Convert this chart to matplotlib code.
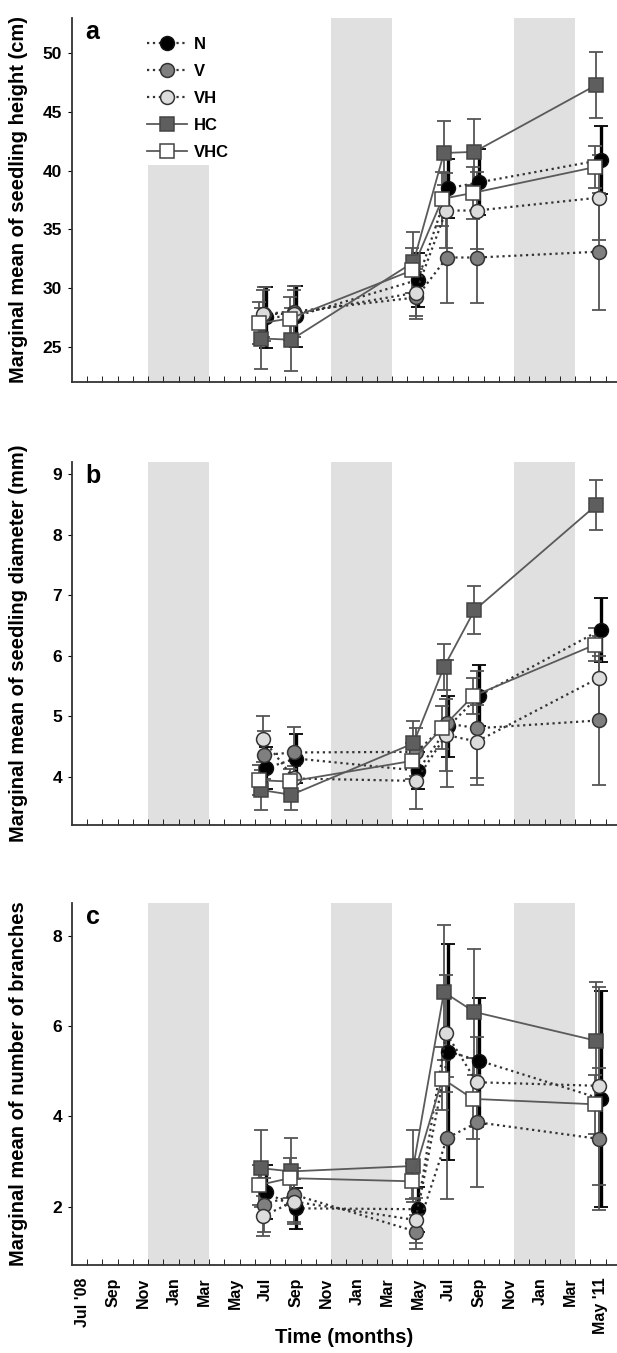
import matplotlib.pyplot as plt

plt.rcParams['font.family'] = ['Liberation Sans', 'DejaVu Sans']
plt.rcParams['font.weight'] = 'bold'

# sampling dates, months since Jul '08
months = [12, 14, 22, 24, 26, 34]
tick_labels = ["Jul '08", 'Sep', 'Nov', 'Jan', 'Mar', 'May', 'Jul', 'Sep', 'Nov',
               'Jan', 'Mar', 'May', 'Jul', 'Sep', 'Nov', 'Jan', 'Mar', "May '11"]
treatments = ['N', 'V', 'VH', 'HC', 'VHC']

# a - seedling height (cm)
height_N = [27.5, 27.6, 30.7, 38.5, 39.0, 40.9]
height_V = [27.8, 28.0, 29.2, 32.6, 32.6, 33.1]
height_VH = [27.8, 27.8, 29.6, 36.6, 36.6, 37.7]
height_HC = [25.7, 25.6, 32.2, 41.5, 41.6, 47.3]
height_VHC = [27.0, 27.4, 31.5, 37.6, 38.1, 40.3]
height_err_N = [2.6, 2.6, 2.3, 2.5, 2.8, 2.9]
height_err_V = [2.3, 2.2, 1.8, 3.9, 3.9, 5.0]
height_err_VH = [2.0, 2.0, 2.0, 3.2, 3.3, 3.6]
height_err_HC = [2.6, 2.7, 2.6, 2.7, 2.8, 2.8]
height_err_VHC = [1.8, 1.8, 1.9, 2.3, 2.2, 1.8]

# b - seedling diameter (mm)
diam_N = [4.14, 4.30, 4.10, 4.83, 5.34, 6.43]
diam_V = [4.36, 4.40, 4.41, 4.88, 4.80, 4.93]
diam_VH = [4.62, 3.97, 3.93, 4.69, 4.58, 5.63]
diam_HC = [3.78, 3.70, 4.55, 5.81, 6.75, 8.49]
diam_VHC = [3.94, 3.92, 4.26, 4.81, 5.33, 6.18]
diam_err_N = [0.35, 0.40, 0.30, 0.50, 0.50, 0.53]
diam_err_V = [0.40, 0.42, 0.40, 1.05, 0.94, 1.07]
diam_err_VH = [0.38, 0.20, 0.47, 0.60, 0.60, 0.70]
diam_err_HC = [0.33, 0.25, 0.37, 0.38, 0.40, 0.42]
diam_err_VHC = [0.25, 0.20, 0.30, 0.35, 0.30, 0.27]

# c - number of branches
branch_N = [2.33, 1.96, 1.94, 5.44, 5.24, 4.39]
branch_V = [2.04, 2.26, 1.44, 3.52, 3.87, 3.50]
branch_VH = [1.79, 2.11, 1.70, 5.85, 4.76, 4.68]
branch_HC = [2.85, 2.78, 2.90, 6.76, 6.32, 5.68]
branch_VHC = [2.48, 2.63, 2.56, 4.84, 4.39, 4.27]
branch_err_N = [0.60, 0.45, 0.50, 2.40, 1.40, 2.40]
branch_err_V = [0.60, 0.60, 0.38, 1.35, 1.43, 1.57]
branch_err_VH = [0.45, 0.50, 0.50, 1.30, 1.00, 2.20]
branch_err_HC = [0.85, 0.75, 0.80, 1.50, 1.40, 1.30]
branch_err_VHC = [0.45, 0.45, 0.40, 0.70, 0.90, 0.65]

panels = [
    ('a', 'Marginal mean of seedling height (cm)',
     [height_N, height_V, height_VH, height_HC, height_VHC],
     [height_err_N, height_err_V, height_err_VH, height_err_HC, height_err_VHC],
     (22, 53), [25, 30, 35, 40, 45, 50]),
    ('b', 'Marginal mean of seedling diameter (mm)',
     [diam_N, diam_V, diam_VH, diam_HC, diam_VHC],
     [diam_err_N, diam_err_V, diam_err_VH, diam_err_HC, diam_err_VHC],
     (3.2, 9.2), [4, 5, 6, 7, 8, 9]),
    ('c', 'Marginal mean of number of branches',
     [branch_N, branch_V, branch_VH, branch_HC, branch_VHC],
     [branch_err_N, branch_err_V, branch_err_VH, branch_err_HC, branch_err_VHC],
     (0.7, 8.74), [2, 4, 6, 8]),
]

# styles per treatment
offsets = [0.0, -0.1, -0.15, -0.3, -0.4]
markers = ['o', 'o', 'o', 's', 's']
fills = ['black', '#7f7f7f', '#dcdcdc', '#5e5e5e', 'white']
edges = ['#111111', '#333333', '#333333', '#444444', '#444444']
linestyles = [':', ':', ':', '-', '-']
linecolors = ['#333333', '#333333', '#333333', '#5a5a5a', '#5a5a5a']
ecolors = ['black', '#555555', '#555555', '#555555', '#555555']
elws = [2.4, 1.3, 1.3, 1.3, 1.3]

winters = [(4.3, 8.3), (16.3, 20.3), (28.3, 32.3)]

fig = plt.figure(figsize=(6.17, 13.53), dpi=100)
positions = [[0.1167, 0.7177, 0.8833, 0.269],
             [0.1167, 0.3902, 0.8833, 0.2683],
             [0.1167, 0.0650, 0.8833, 0.2676]]

for p, (letter, ylabel, series, errs, ylim, yticks) in enumerate(panels):
    ax = fig.add_axes(positions[p])
    for w, (x0, x1) in enumerate(winters):
        if p == 0 and w == 0:
            ax.fill_between([x0, x1], ylim[0], 40.5, color='#e0e0e0', lw=0, zorder=0)
        else:
            ax.axvspan(x0, x1, color='#e0e0e0', lw=0, zorder=0)

    for i, name in enumerate(treatments):
        xs = [m + offsets[i] for m in months]
        ax.errorbar(xs, series[i], yerr=errs[i], fmt='none', ecolor=ecolors[i],
                    elinewidth=elws[i], capsize=5, capthick=1.3, zorder=2 + i * 0.1)
        ax.plot(xs, series[i], linestyle=linestyles[i], color=linecolors[i],
                lw=1.6 if linestyles[i] == ':' else 1.3, marker=markers[i],
                markersize=10 if markers[i] == 'o' else 9.5,
                markerfacecolor=fills[i], markeredgecolor=edges[i], markeredgewidth=1.1,
                label=name, zorder=3 + i * 0.1)

    ax.set_xlim(-0.69, 35.05)
    ax.set_ylim(*ylim)
    ax.set_yticks(yticks)
    ax.tick_params(axis='y', direction='out', length=3, labelsize=12.5, pad=4)
    ax.set_xticks(list(range(0, 35, 2)))
    ax.set_xticks([m + 0.3 for m in range(35)], minor=True)
    ax.tick_params(axis='x', which='major', length=0, labelsize=11.5, pad=9)
    ax.tick_params(axis='x', which='minor', direction='in', length=4)
    if p == 2:
        ax.set_xticklabels(tick_labels, rotation=90, fontweight='bold')
    else:
        ax.set_xticklabels([])
    for lab in ax.get_yticklabels():
        lab.set_fontweight('bold')

    ax.spines['top'].set_visible(False)
    ax.spines['right'].set_visible(False)
    ax.spines['left'].set_linewidth(1.3)
    ax.spines['bottom'].set_linewidth(1.3)
    ax.spines['left'].set_color('#333333')
    ax.spines['bottom'].set_color('#333333')

    ax.set_ylabel(ylabel, fontsize=14.5, fontweight='bold')
    ax.yaxis.set_label_coords(-0.08, 0.5)
    ax.text(0.025, 0.995, letter, transform=ax.transAxes, fontsize=18,
            fontweight='bold', va='top', ha='left')

    if p == 0:
        ax.legend(loc='upper left', bbox_to_anchor=(0.12, 0.975), frameon=False,
                  handlelength=2.4, labelspacing=0.72, handletextpad=0.4,
                  borderaxespad=0.2, prop={'weight': 'bold', 'size': 12})

fig.text(0.5575, 0.0115, 'Time (months)', fontsize=14.5, fontweight='bold',
         ha='center', va='center')

fig.savefig('out.png', dpi=100)
